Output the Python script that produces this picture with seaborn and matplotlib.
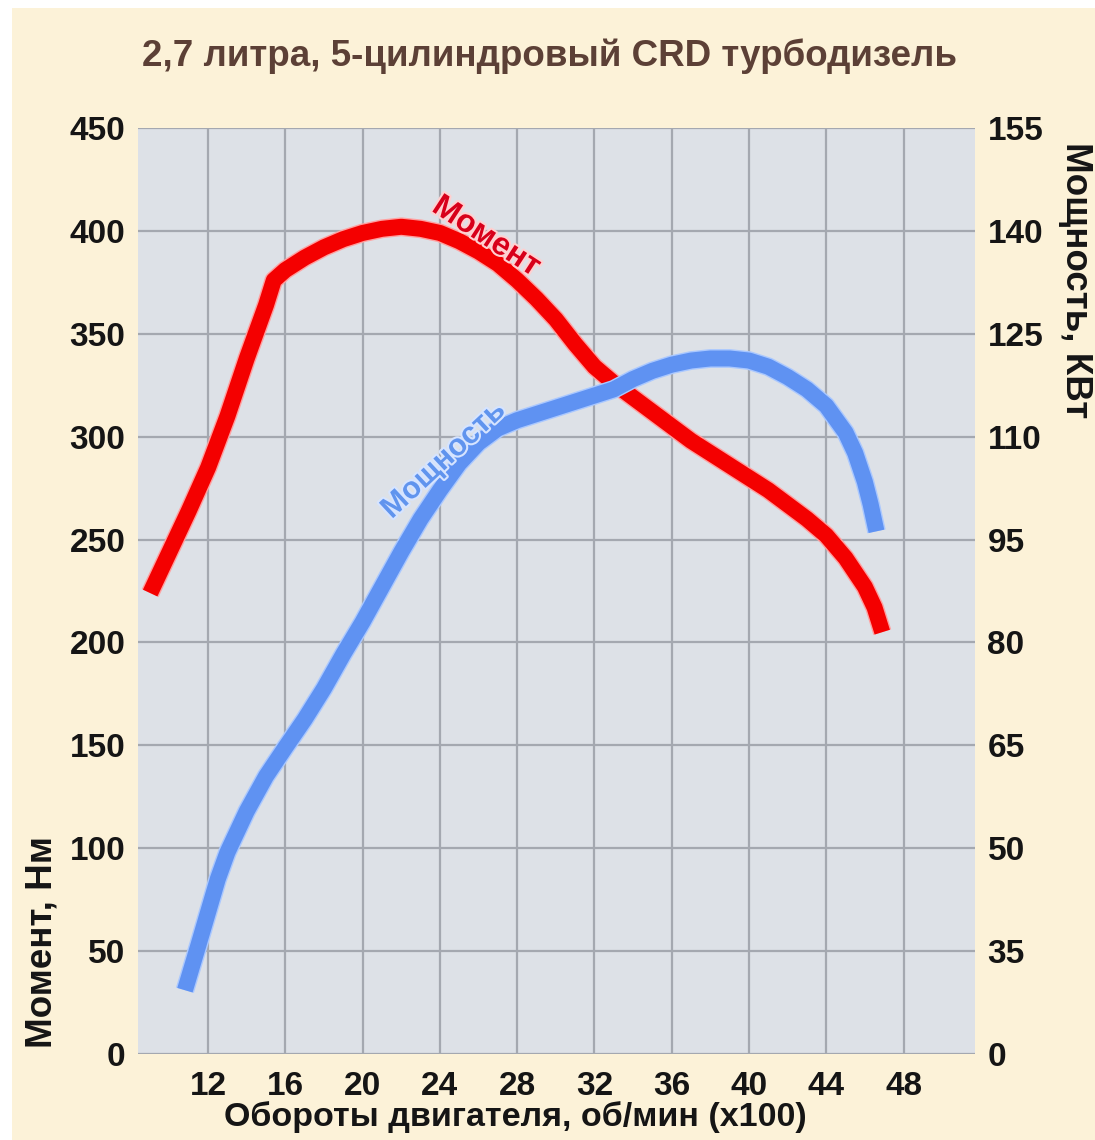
import matplotlib
matplotlib.use("Agg")
import matplotlib.pyplot as plt
import matplotlib.patheffects as pe
from matplotlib.patches import Rectangle
import pandas as pd
import seaborn as sns

# Engine speed (x100 rpm) and torque, N·m
rpm_torque = [9.0, 10.0, 11.0, 12.0, 13.0, 14.0, 15.0, 15.4, 16.0, 17.0, 18.0,
              19.0, 20.0, 21.0, 22.0, 23.0, 24.0, 25.0, 26.0, 27.0, 28.0, 29.0,
              30.0, 31.0, 32.0, 33.0, 34.0, 35.0, 36.0, 37.0, 38.0, 39.0, 40.0,
              41.0, 42.0, 43.0, 44.0, 45.0, 46.0, 46.5, 46.9]
torque_nm = [224, 244, 264, 285, 310, 338, 364, 376, 381, 387, 392,
             396, 399, 401, 402, 401, 399, 395, 390, 384, 376, 367,
             357, 345, 334, 326, 319, 312, 305, 298, 292, 286, 280,
             274, 267, 260, 252, 241, 227, 217, 205]

# Engine speed (x100 rpm) and power, kW
rpm_power = [10.8, 11.5, 12.0, 12.5, 13.0, 14.0, 15.0, 16.0, 17.0, 18.0, 19.0, 20.0,
             21.0, 22.0, 23.0, 24.0, 25.0, 26.0, 27.0, 28.0, 29.0, 30.0, 31.0,
             32.0, 33.0, 34.0, 35.0, 36.0, 37.0, 38.0, 39.0, 40.0, 41.0, 42.0,
             43.0, 44.0, 45.0, 45.5, 46.0, 46.3, 46.6]
power_kw = [29.3, 35.9, 40.7, 45.5, 49.4, 55.4, 60.5, 64.7, 68.8, 73.3, 78.3, 83.0,
            88.1, 93.2, 98.0, 102.2, 106.1, 109.1, 111.2, 112.4, 113.3, 114.2, 115.1,
            116.0, 116.9, 118.4, 119.6, 120.5, 121.1, 121.4, 121.4, 121.1, 120.2, 118.7,
            116.9, 114.5, 110.6, 107.6, 103.4, 100.1, 96.2]

x_ticks = [12, 16, 20, 24, 28, 32, 36, 40, 44, 48]
torque_ticks = [0, 50, 100, 150, 200, 250, 300, 350, 400, 450]
power_ticks = [20, 35, 50, 65, 80, 95, 110, 125, 140, 155]
power_tick_labels = ["0", "35", "50", "65", "80", "95", "110", "125", "140", "155"]

title = "2,7 литра, 5-цилиндровый CRD турбодизель"
x_label = "Обороты двигателя, об/мин (x100)"
torque_label = "Момент, Нм"
power_label = "Мощность, КВт"

sns.set_style("white")
plt.rcParams["font.family"] = ["Liberation Sans", "DejaVu Sans"]
plt.rcParams["font.weight"] = "bold"

W, H = 1095, 1140
fig = plt.figure(figsize=(W / 100, H / 100), dpi=100, facecolor="white")
fig.patches.append(Rectangle((12 / W, 0), 1, 1 - 8 / H, transform=fig.transFigure,
                             facecolor="#fcf2d8", edgecolor="none", zorder=-10))

ax = fig.add_axes([138 / W, 1 - 1054 / H, (975 - 138) / W, (1054 - 128) / H])
ax.set_facecolor("#dde1e7")
for s in ax.spines.values():
    s.set_visible(False)

torque_df = pd.DataFrame({"rpm": rpm_torque, "torque": torque_nm})
power_df = pd.DataFrame({"rpm": rpm_power, "power": power_kw})

sns.lineplot(data=torque_df, x="rpm", y="torque", ax=ax, color="#f40000",
             linewidth=11.5, sort=False, solid_capstyle="butt",
             solid_joinstyle="round", zorder=3,
             path_effects=[pe.Stroke(linewidth=13.5, foreground="#ffa0a0"), pe.Normal()])

ax.set_xlim(8.37, 51.7)
ax.set_ylim(0, 450)
ax.set_xticks(x_ticks)
ax.set_xticklabels([str(v) for v in x_ticks])
ax.set_yticks(torque_ticks)
ax.set_yticklabels([str(v) for v in torque_ticks])
ax.grid(True, color="#a4a8b0", linewidth=1.6)
ax.set_axisbelow(True)
ax.tick_params(axis="both", length=0, labelsize=24, labelcolor="#151515")
ax.tick_params(axis="x", pad=12)
ax.tick_params(axis="y", pad=9)
ax.set_xlabel("")
ax.set_ylabel("")
for lab in ax.get_xticklabels() + ax.get_yticklabels():
    lab.set_fontweight("bold")

ax2 = ax.twinx()
for s in ax2.spines.values():
    s.set_visible(False)
sns.lineplot(data=power_df, x="rpm", y="power", ax=ax2, color="#5f92f2",
             linewidth=11.5, sort=False, solid_capstyle="butt",
             solid_joinstyle="round", zorder=3,
             path_effects=[pe.Stroke(linewidth=13.5, foreground="#aac8ff"), pe.Normal()])
ax2.set_ylim(20, 155)
ax2.set_yticks(power_ticks)
ax2.set_yticklabels(power_tick_labels)
ax2.tick_params(axis="y", length=0, labelsize=24, labelcolor="#151515", pad=9)
for lab in ax2.get_yticklabels():
    lab.set_fontweight("bold")
ax2.set_ylabel("")
ax2.grid(False)

# Curve names written along the lines
ax.text(26.4, 397, "Момент", color="#d8001a", fontsize=23, fontweight="bold",
        rotation=-33, ha="center", va="center", zorder=5,
        path_effects=[pe.withStroke(linewidth=3, foreground="#ffd0d0")])
ax2.text(24.2, 106.6, "Мощность", color="#6094ee", fontsize=22, fontweight="bold",
         rotation=43, ha="center", va="center", zorder=5,
         path_effects=[pe.withStroke(linewidth=3, foreground="#d6e4ff")])

fig.text(550 / W, 1 - 56 / H, title, ha="center", va="center", fontsize=26.5,
         fontweight="bold", color="#5c4036")
fig.text(515 / W, 1 - 1117 / H, x_label, ha="center", va="center", fontsize=24.5,
         fontweight="bold", color="#151515")
fig.text(42 / W, 1 - 942 / H, torque_label, ha="center", va="center", fontsize=26.5,
         fontweight="bold", color="#151515", rotation=90)
fig.text(1075 / W, 1 - 280 / H, power_label, ha="center", va="center", fontsize=26.5,
         fontweight="bold", color="#151515", rotation=-90)

fig.savefig("out.png", dpi=100, facecolor=fig.get_facecolor())
